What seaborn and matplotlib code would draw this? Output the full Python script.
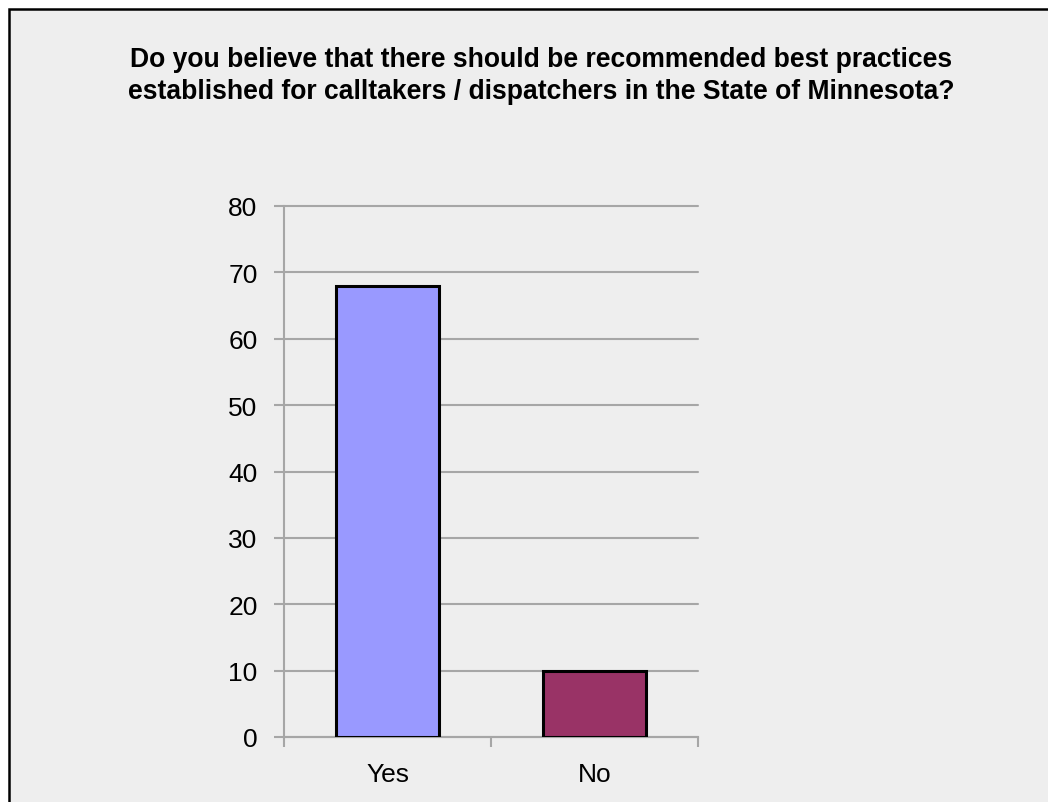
import matplotlib
matplotlib.use("Agg")
import matplotlib.pyplot as plt
import matplotlib.patches as mpatches
import seaborn as sns
import pandas as pd

# Survey responses
answers = ["Yes", "No"]
counts = [68, 10]
bar_colors = ["#9999FF", "#993366"]
y_ticks = [0, 10, 20, 30, 40, 50, 60, 70, 80]
title_text = ("Do you believe that there should be recommended best practices\n"
              "established for calltakers / dispatchers in the State of Minnesota?")

sns.set_theme(style="white")
plt.rcParams["font.family"] = ["Liberation Sans", "DejaVu Sans"]
plt.rcParams["text.color"] = "black"
plt.rcParams["xtick.labelcolor"] = "black"
plt.rcParams["ytick.labelcolor"] = "black"

W, H = 1048, 803
fig = plt.figure(figsize=(W / 100, H / 100), dpi=100, facecolor="white")

# Chart panel with a black border on its top and left edges
panel = mpatches.Rectangle((8.5 / W, -0.05), 1.2, 1.05 - 9.5 / H,
                           transform=fig.transFigure, facecolor="#EEEEEE",
                           edgecolor="black", linewidth=1.8, zorder=-10)
fig.patches.append(panel)

ax = fig.add_axes([284 / W, 1 - 738 / H, (698 - 284) / W, (738 - 207) / H])
ax.set_facecolor("none")
ax.set_zorder(5)

df = pd.DataFrame({"answer": answers, "count": counts})
sns.barplot(data=df, x="answer", y="count", hue="answer", palette=bar_colors,
            saturation=1, width=0.5, edgecolor="black", linewidth=2.2,
            legend=False, ax=ax, zorder=3)

grid_color = "#A6A6A6"
ax.set_ylim(0, 80)
ax.set_xlim(-0.5, 1.5)
ax.set_yticks(y_ticks)
ax.yaxis.grid(True, color=grid_color, linewidth=1.5, zorder=0)
for gl in ax.get_ygridlines():
    gl.set_clip_on(False)
ax.set_axisbelow(True)

for side in ["top", "right"]:
    ax.spines[side].set_visible(False)
for side in ["left", "bottom"]:
    ax.spines[side].set_color(grid_color)
    ax.spines[side].set_linewidth(1.5)

ax.tick_params(axis="y", which="major", direction="out", length=7, width=1.5,
               color=grid_color, labelcolor="black", labelsize=19, pad=12,
               left=True)
ax.set_xticks([0, 1])
ax.set_xticklabels(answers)
ax.set_xticks([-0.5, 0.5, 1.5], minor=True)
ax.tick_params(axis="x", which="major", length=0, labelcolor="black",
               labelsize=19, pad=18)
ax.tick_params(axis="x", which="minor", direction="out", length=7, width=1.5,
               color=grid_color, bottom=True)
ax.set_xlabel("")
ax.set_ylabel("")

fig.text(541 / W, 1 - 47 / H, title_text, ha="center", va="top",
         fontsize=19.1, fontweight="bold", linespacing=1.28, color="black")

fig.savefig("out.png", dpi=100, facecolor=fig.get_facecolor())
